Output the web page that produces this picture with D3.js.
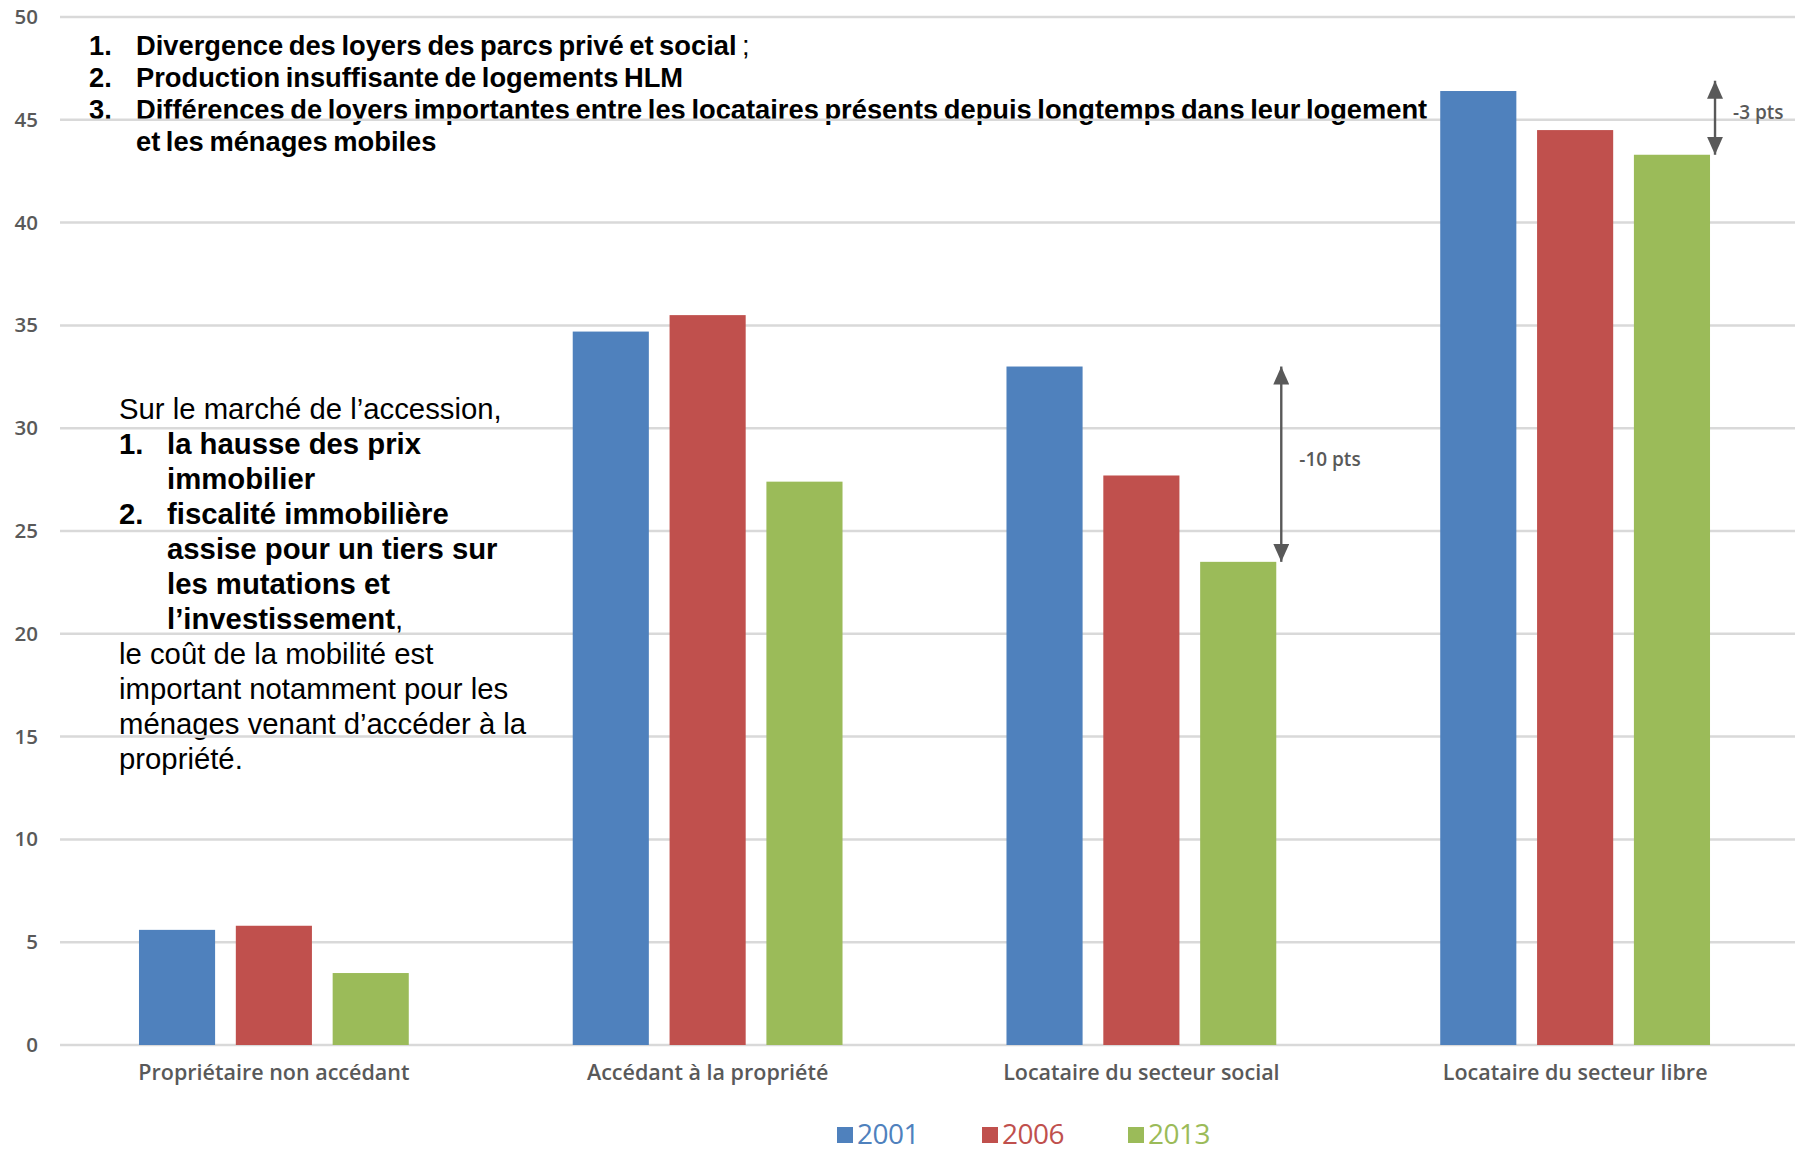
<!DOCTYPE html>
<html>
<head>
<meta charset="utf-8">
<script src="https://cdnjs.cloudflare.com/ajax/libs/d3/7.8.5/d3.min.js"></script>
<style>
  html, body { margin: 0; padding: 0; background: #fff; }
  svg { display: block; }
</style>
</head>
<body>
<div id="chart"></div>
<script>
//----------------------------
// Data
//----------------------------

var categories = ["Propriétaire non accédant", "Accédant à la propriété", "Locataire du secteur social", "Locataire du secteur libre"];
var years = ["2001", "2006", "2013"];
var values2001 = [5.6, 34.7, 33.0, 46.4];
var values2006 = [5.8, 35.5, 27.7, 44.5];
var values2013 = [3.5, 27.4, 23.5, 43.3];
var yTicks = [0, 5, 10, 15, 20, 25, 30, 35, 40, 45, 50];
var colors = ["#4F81BD", "#C0504D", "#9BBB59"];

// arrows: category, start value, end value, label
var arrowCats = ["Locataire du secteur social", "Locataire du secteur libre"];
var arrowFrom = [33.0, 46.9];
var arrowTo = [23.5, 43.3];
var arrowLabels = ["-10 pts", "-3 pts"];

var topNotes = [
    ["1.", "Divergence des loyers des parcs privé et social", " ;"],
    ["2.", "Production insuffisante de logements HLM", ""],
    ["3.", "Différences de loyers importantes entre les locataires présents depuis longtemps dans leur logement", ""],
    ["", "et les ménages mobiles", ""]
];

// [number, text, bold, trailing regular text, indented]
var sideNotes = [
    ["", "Sur le marché de l’accession,", false, "", false],
    ["1.", "la hausse des prix", true, "", true],
    ["", "immobilier", true, "", true],
    ["2.", "fiscalité immobilière", true, "", true],
    ["", "assise pour un tiers sur", true, "", true],
    ["", "les mutations et", true, "", true],
    ["", "l’investissement", true, ",", true],
    ["", "le coût de la mobilité est", false, "", false],
    ["", "important notamment pour les", false, "", false],
    ["", "ménages venant d’accéder à la", false, "", false],
    ["", "propriété.", false, "", false]
];

var series = [values2001, values2006, values2013];

//----------------------------
// Scales
//----------------------------

var W = 1795, H = 1151;
var plotLeft = 57, plotRight = 1792;

var svg = d3.select("#chart")
    .append("svg")
    .attr("width", W)
    .attr("height", H);

var y = d3.scaleLinear()
    .domain([0, 50])
    .range([1045, 17]);

var x0 = d3.scaleBand()
    .domain(categories)
    .range([plotLeft, plotRight])
    .paddingInner(0.378)
    .paddingOuter(0.189);

var x1 = d3.scaleBand()
    .domain(years)
    .range([0, x0.bandwidth()])
    .paddingInner(0.214)
    .paddingOuter(0);

var grey = "#595959";

//----------------------------
// Text notes (under the grid)
//----------------------------

var topG = svg.append("g")
    .attr("font-family", "'Liberation Sans', Arial, sans-serif")
    .attr("font-size", 27.3)
    .attr("font-weight", "bold")
    .attr("fill", "#000");

topNotes.forEach(function (d, i) {
    var yy = 55 + i * 32;
    if (d[0]) {
        topG.append("text").attr("x", 89).attr("y", yy).text(d[0]);
    }
    var t = topG.append("text").attr("x", 136).attr("y", yy)
        .attr("word-spacing", -2);
    t.append("tspan").text(d[1]);
    if (d[2]) t.append("tspan").attr("font-weight", "normal").text(d[2]);
});

var side = svg.append("g")
    .attr("font-family", "'Liberation Sans', Arial, sans-serif")
    .attr("font-size", 29.3)
    .attr("fill", "#000");

sideNotes.forEach(function (d, i) {
    var yy = 419 + i * 35;
    if (d[0]) {
        side.append("text").attr("x", 119).attr("y", yy)
            .attr("font-weight", "bold").text(d[0]);
    }
    var t = side.append("text")
        .attr("x", d[4] ? 167 : 119)
        .attr("y", yy);
    t.append("tspan").attr("font-weight", d[2] ? "bold" : "normal").text(d[1]);
    if (d[3]) t.append("tspan").attr("font-weight", "normal").text(d[3]);
});

//----------------------------
// Grid and axis
//----------------------------

svg.append("g")
    .selectAll("line")
    .data(yTicks)
    .enter()
    .append("line")
    .attr("x1", 60)
    .attr("x2", W)
    .attr("y1", d => y(d))
    .attr("y2", d => y(d))
    .attr("stroke", "#D9D9D9")
    .attr("stroke-width", 2.5);

var yAxis = svg.append("g")
    .attr("transform", "translate(38,0)")
    .call(d3.axisLeft(y).tickValues(yTicks).tickSize(0).tickPadding(0));

yAxis.select(".domain").remove();
yAxis.selectAll("text")
    .attr("font-family", "'Open Sans', sans-serif")
    .attr("font-weight", 600)
    .attr("font-size", 20.5)
    .attr("fill", grey);

//----------------------------
// Bars
//----------------------------

var groups = svg.append("g")
    .selectAll("g")
    .data(categories)
    .enter()
    .append("g")
    .attr("transform", d => "translate(" + x0(d) + ",0)");

groups.selectAll("rect")
    .data((d, i) => years.map((yr, j) => ({ year: yr, value: series[j][i], color: colors[j] })))
    .enter()
    .append("rect")
    .attr("x", d => x1(d.year))
    .attr("y", d => y(d.value))
    .attr("width", x1.bandwidth())
    .attr("height", d => y(0) - y(d.value))
    .attr("fill", d => d.color);

var xAxis = svg.append("g")
    .attr("transform", "translate(0," + y(0) + ")")
    .call(d3.axisBottom(x0).tickSize(0).tickPadding(20));

xAxis.select(".domain").remove();
xAxis.selectAll("text")
    .attr("font-family", "'Open Sans', sans-serif")
    .attr("font-weight", 600)
    .attr("font-size", 21.5)
    .attr("fill", grey);

//----------------------------
// Arrows
//----------------------------

var defs = svg.append("defs");
defs.append("marker")
    .attr("id", "head")
    .attr("viewBox", "0 0 18 16")
    .attr("refX", 18)
    .attr("refY", 8)
    .attr("markerUnits", "userSpaceOnUse")
    .attr("markerWidth", 18)
    .attr("markerHeight", 16)
    .attr("orient", "auto-start-reverse")
    .append("path")
    .attr("d", "M0,0 L18,8 L0,16 Z")
    .attr("fill", grey);

arrowCats.forEach(function (c, i) {
    var ax = x0(c) + x1("2013") + x1.bandwidth() + 5;
    svg.append("line")
        .attr("x1", ax).attr("x2", ax)
        .attr("y1", y(arrowFrom[i]))
        .attr("y2", y(arrowTo[i]))
        .attr("stroke", grey)
        .attr("stroke-width", 2.4)
        .attr("marker-start", "url(#head)")
        .attr("marker-end", "url(#head)");
    svg.append("text")
        .attr("x", ax + 18)
        .attr("y", (y(arrowFrom[i]) + y(arrowTo[i])) / 2 - 5)
        .attr("dy", "0.35em")
        .attr("font-family", "'Open Sans', sans-serif")
        .attr("font-weight", 600)
        .attr("font-size", 19)
        .attr("fill", grey)
        .text(arrowLabels[i]);
});

//----------------------------
// Legend
//----------------------------

var legendX = [837, 982, 1128];
var legend = svg.append("g");
years.forEach(function (yr, i) {
    legend.append("rect")
        .attr("x", legendX[i])
        .attr("y", 1127)
        .attr("width", 16)
        .attr("height", 16)
        .attr("fill", colors[i]);
    legend.append("text")
        .attr("x", legendX[i] + 20)
        .attr("y", 1144)
        .attr("font-family", "'Open Sans', sans-serif")
        .attr("font-size", 28)
        .attr("letter-spacing", -0.5)
        .attr("fill", colors[i])
        .text(yr);
});
</script>
</body>
</html>
